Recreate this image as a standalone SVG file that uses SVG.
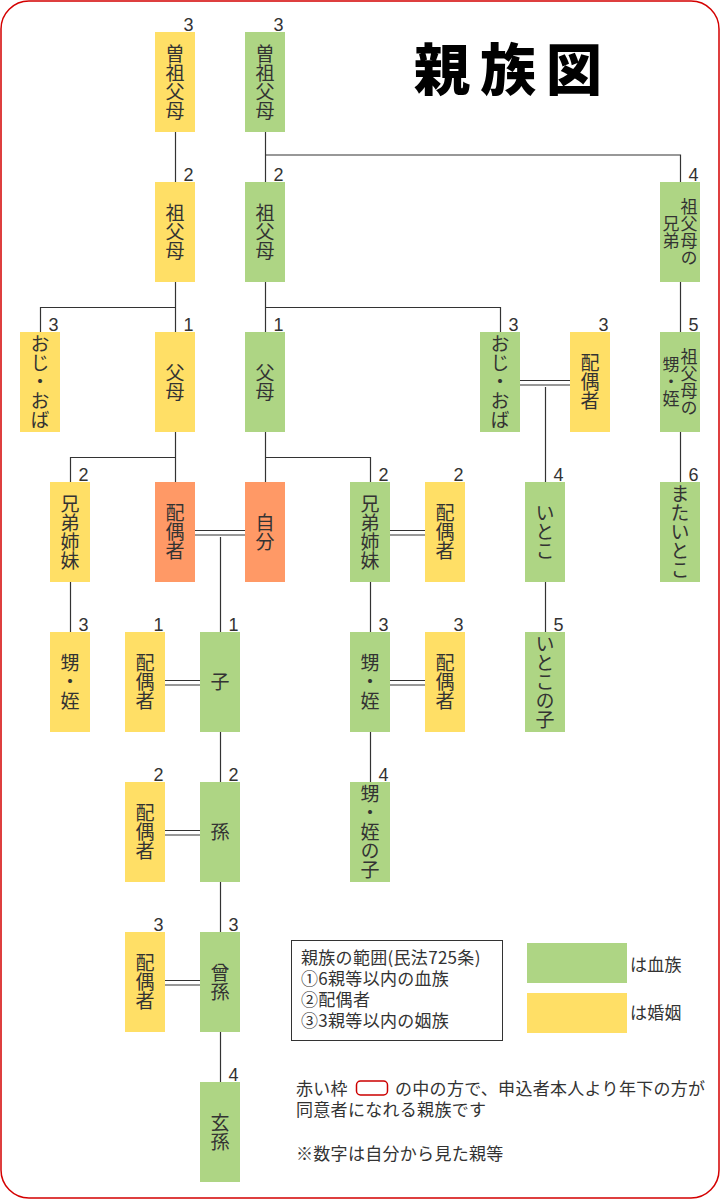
<svg xmlns="http://www.w3.org/2000/svg" width="720" height="1200" viewBox="0 0 720 1200">
<style>
.y{fill:#FFDF66}
.g{fill:#AED584}
.o{fill:#FF9966}
.v{font-family:"Noto Sans CJK JP","Noto Sans",sans-serif;font-size:19px;fill:#333;writing-mode:vertical-rl;text-anchor:middle}
.v2{font-family:"Noto Sans CJK JP","Noto Sans",sans-serif;font-size:17px;fill:#333;writing-mode:vertical-rl;text-anchor:middle}
.n{font-family:"Liberation Sans",Arial,sans-serif;font-size:18px;fill:#333;text-anchor:middle}
.t{font-family:"Noto Sans CJK JP","Noto Sans",sans-serif;font-size:17px;fill:#333;letter-spacing:0.3px}
.c line,.c polyline{stroke:#333;stroke-width:1.2;fill:none}
</style>
<rect x="1" y="1" width="718" height="1197" rx="28" ry="28" fill="#fff" stroke="#D40000" stroke-width="1.5"/>
<text x="513" y="90" font-family="'Noto Sans CJK JP',sans-serif" font-weight="900" font-size="56" letter-spacing="10" text-anchor="middle" fill="#000">親族図</text>

<g class="c" id="connectors">
<line x1="175.5" y1="132" x2="175.5" y2="182"/>
<line x1="265.5" y1="132" x2="265.5" y2="182"/>
<polyline points="265.5,155 680.5,155 680.5,182"/>
<line x1="175.5" y1="282" x2="175.5" y2="332"/>
<polyline points="40.5,332 40.5,307.5 175.5,307.5"/>
<line x1="265.5" y1="282" x2="265.5" y2="332"/>
<polyline points="265.5,307.5 500.5,307.5 500.5,332"/>
<line x1="680.5" y1="282" x2="680.5" y2="332"/>
<line x1="175.5" y1="432" x2="175.5" y2="482"/>
<polyline points="70.5,482 70.5,457.5 175.5,457.5"/>
<line x1="265.5" y1="432" x2="265.5" y2="482"/>
<polyline points="265.5,457.5 370.5,457.5 370.5,482"/>
<line x1="520" y1="380.5" x2="570" y2="380.5"/>
<line x1="520" y1="385" x2="570" y2="385"/>
<line x1="545.5" y1="387" x2="545.5" y2="482"/>
<line x1="680.5" y1="432" x2="680.5" y2="482"/>
<line x1="195" y1="530.5" x2="245" y2="530.5"/>
<line x1="195" y1="535" x2="245" y2="535"/>
<line x1="220.5" y1="537" x2="220.5" y2="632"/>
<line x1="390" y1="530.5" x2="425" y2="530.5"/>
<line x1="390" y1="535" x2="425" y2="535"/>
<line x1="70.5" y1="582" x2="70.5" y2="632"/>
<line x1="370.5" y1="582" x2="370.5" y2="632"/>
<line x1="545.5" y1="582" x2="545.5" y2="632"/>
<line x1="165" y1="680.5" x2="200" y2="680.5"/>
<line x1="165" y1="685" x2="200" y2="685"/>
<line x1="390" y1="680.5" x2="425" y2="680.5"/>
<line x1="390" y1="685" x2="425" y2="685"/>
<line x1="220.5" y1="732" x2="220.5" y2="782"/>
<line x1="370.5" y1="732" x2="370.5" y2="782"/>
<line x1="165" y1="830.5" x2="200" y2="830.5"/>
<line x1="165" y1="835" x2="200" y2="835"/>
<line x1="220.5" y1="882" x2="220.5" y2="932"/>
<line x1="165" y1="980.5" x2="200" y2="980.5"/>
<line x1="165" y1="985" x2="200" y2="985"/>
<line x1="220.5" y1="1032" x2="220.5" y2="1082"/>
</g>

<g id="hisosofubo-y"><rect class="y" x="155" y="32" width="40" height="100"/><text class="v" x="175" y="82">曽祖父母</text><text class="n" x="188.5" y="31">3</text></g>
<g id="hisosofubo-g"><rect class="g" x="245" y="32" width="40" height="100"/><text class="v" x="265" y="82">曽祖父母</text><text class="n" x="278.5" y="31">3</text></g>

<g id="sofubo-y"><rect class="y" x="155" y="182" width="40" height="100"/><text class="v" x="175" y="232">祖父母</text><text class="n" x="188.5" y="181">2</text></g>
<g id="sofubo-g"><rect class="g" x="245" y="182" width="40" height="100"/><text class="v" x="265" y="232">祖父母</text><text class="n" x="278.5" y="181">2</text></g>
<g id="sofubo-kyodai"><rect class="g" x="660" y="182" width="40" height="100"/><text class="v2" x="689" y="232">祖父母の</text><text class="v2" x="671" y="232">兄弟</text><text class="n" x="693.5" y="181">4</text></g>

<g id="oji-y"><rect class="y" x="20" y="332" width="40" height="100"/><text class="v" x="40" y="382">おじ・おば</text><text class="n" x="53.5" y="331">3</text></g>
<g id="fubo-y"><rect class="y" x="155" y="332" width="40" height="100"/><text class="v" x="175" y="382">父母</text><text class="n" x="188.5" y="331">1</text></g>
<g id="fubo-g"><rect class="g" x="245" y="332" width="40" height="100"/><text class="v" x="265" y="382">父母</text><text class="n" x="278.5" y="331">1</text></g>
<g id="oji-g"><rect class="g" x="480" y="332" width="40" height="100"/><text class="v" x="500" y="382">おじ・おば</text><text class="n" x="513.5" y="331">3</text></g>
<g id="oji-haigu"><rect class="y" x="570" y="332" width="40" height="100"/><text class="v" x="590" y="382">配偶者</text><text class="n" x="603.5" y="331">3</text></g>
<g id="sofubo-oimei"><rect class="g" x="660" y="332" width="40" height="100"/><text class="v2" x="689" y="382">祖父母の</text><text class="v2" x="671" y="382">甥・姪</text><text class="n" x="693.5" y="331">5</text></g>

<g id="kyodai-y"><rect class="y" x="50" y="482" width="40" height="100"/><text class="v" x="70" y="532">兄弟姉妹</text><text class="n" x="83.5" y="481">2</text></g>
<g id="haigu-self"><rect class="o" x="155" y="482" width="40" height="100"/><text class="v" x="175" y="532">配偶者</text></g>
<g id="jibun"><rect class="o" x="245" y="482" width="40" height="100"/><text class="v" x="265" y="532">自分</text></g>
<g id="kyodai-g"><rect class="g" x="350" y="482" width="40" height="100"/><text class="v" x="370" y="532">兄弟姉妹</text><text class="n" x="383.5" y="481">2</text></g>
<g id="kyodai-haigu"><rect class="y" x="425" y="482" width="40" height="100"/><text class="v" x="445" y="532">配偶者</text><text class="n" x="458.5" y="481">2</text></g>
<g id="itoko"><rect class="g" x="525" y="482" width="40" height="100"/><text class="v" x="545" y="532">いとこ</text><text class="n" x="558.5" y="481">4</text></g>
<g id="mataitoko"><rect class="g" x="660" y="482" width="40" height="100"/><text class="v" x="680" y="532">またいとこ</text><text class="n" x="693.5" y="481">6</text></g>

<g id="oimei-y"><rect class="y" x="50" y="632" width="40" height="100"/><text class="v" x="70" y="682">甥・姪</text><text class="n" x="83.5" y="631">3</text></g>
<g id="ko-haigu"><rect class="y" x="125" y="632" width="40" height="100"/><text class="v" x="145" y="682">配偶者</text><text class="n" x="158.5" y="631">1</text></g>
<g id="ko"><rect class="g" x="200" y="632" width="40" height="100"/><text class="v" x="220" y="682">子</text><text class="n" x="233.5" y="631">1</text></g>
<g id="oimei-g"><rect class="g" x="350" y="632" width="40" height="100"/><text class="v" x="370" y="682">甥・姪</text><text class="n" x="383.5" y="631">3</text></g>
<g id="oimei-haigu"><rect class="y" x="425" y="632" width="40" height="100"/><text class="v" x="445" y="682">配偶者</text><text class="n" x="458.5" y="631">3</text></g>
<g id="itokonoko"><rect class="g" x="525" y="632" width="40" height="100"/><text class="v" x="545" y="682">いとこの子</text><text class="n" x="558.5" y="631">5</text></g>

<g id="mago-haigu"><rect class="y" x="125" y="782" width="40" height="100"/><text class="v" x="145" y="832">配偶者</text><text class="n" x="158.5" y="781">2</text></g>
<g id="mago"><rect class="g" x="200" y="782" width="40" height="100"/><text class="v" x="220" y="832">孫</text><text class="n" x="233.5" y="781">2</text></g>
<g id="oimeinoko"><rect class="g" x="350" y="782" width="40" height="100"/><text class="v" x="370" y="832">甥・姪の子</text><text class="n" x="383.5" y="781">4</text></g>

<g id="himago-haigu"><rect class="y" x="125" y="932" width="40" height="100"/><text class="v" x="145" y="982">配偶者</text><text class="n" x="158.5" y="931">3</text></g>
<g id="himago"><rect class="g" x="200" y="932" width="40" height="100"/><text class="v" x="220" y="982">曾孫</text><text class="n" x="233.5" y="931">3</text></g>

<g id="yashago"><rect class="g" x="200" y="1082" width="40" height="100"/><text class="v" x="220" y="1132">玄孫</text><text class="n" x="233.5" y="1081">4</text></g>

<g id="legend">
<rect x="291.5" y="940.5" width="211" height="100" fill="#fff" stroke="#333" stroke-width="1"/>
<text class="t" x="301" y="964">親族の範囲(民法725条)</text>
<text class="t" x="301" y="985">①6親等以内の血族</text>
<text class="t" x="301" y="1006">②配偶者</text>
<text class="t" x="301" y="1027">③3親等以内の姻族</text>
<rect class="g" x="527" y="943" width="100" height="40"/>
<text class="t" x="630" y="971">は血族</text>
<rect class="y" x="527" y="993" width="100" height="40"/>
<text class="t" x="630" y="1019">は婚姻</text>
</g>

<g id="notes">
<text class="t" x="296" y="1095">赤い枠</text>
<rect x="356.5" y="1081" width="31" height="14" rx="4" fill="none" stroke="#C00" stroke-width="1.5"/>
<text class="t" x="395" y="1095">の中の方で、申込者本人より年下の方が</text>
<text class="t" x="296" y="1116">同意者になれる親族です</text>
<text class="t" x="296" y="1160">※数字は自分から見た親等</text>
</g>
</svg>
